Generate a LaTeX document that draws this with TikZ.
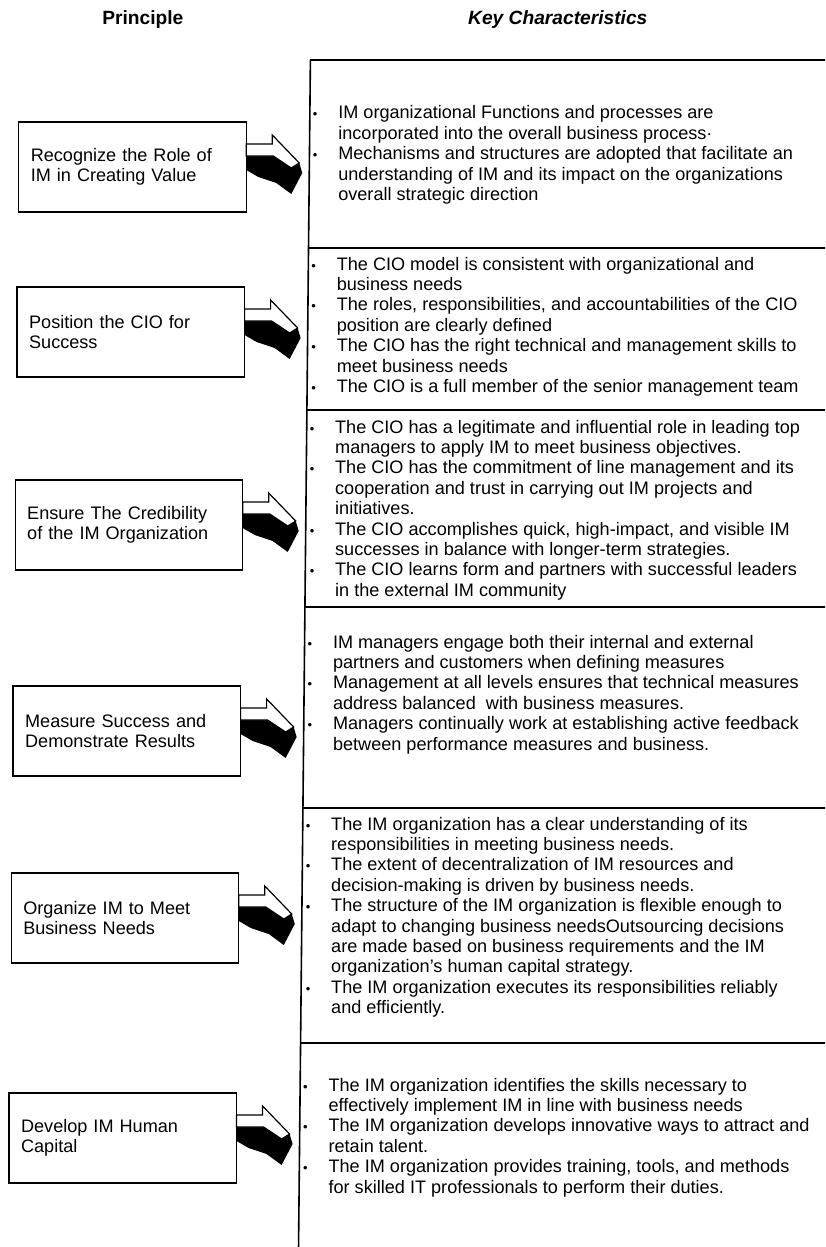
\documentclass[tikz,border=0pt]{standalone}
\usepackage{fontspec}
\setmainfont{Liberation Sans}
\usepackage{array}
% body text size and the small list bullet
\newcommand\bodyfont{\fontsize{9.05}{10.2}\selectfont}
\newcommand\blt{\makebox[14pt][l]{\hspace{1.3pt}{\fontsize{6.5}{6.5}\selectfont\symbol{"2022}}}}
\begin{document}
\begin{tikzpicture}[x=0.5pt,y=-0.5pt,
  every node/.style={inner sep=0pt,outer sep=0pt},
  headtxt/.style={font=\fontsize{9.6}{11}\selectfont\bfseries},
  pbox/.style={draw,line width=0.7pt,text width=101.75pt,inner xsep=6pt,
    minimum height=45pt,align=left,font=\bodyfont,anchor=north west},
  charlist/.style={anchor=base west,font=\bodyfont},
  tablerule/.style={line width=0.8pt},
  blockarrow/.pic={
    % dark side face of the bent arrow
    \fill[black] (0,-11) -- (27,-11) -- (45,1) -- (53,-4) -- (56,6)
      -- (45,27) -- (30,16) -- (12,10) -- (0,3) -- cycle;
    % white front face
    \filldraw[fill=white,draw=black,line width=0.6pt] (0,-23) -- (26,-23)
      -- (26,-32) -- (53,-4) -- (45,1) -- (27,-11) -- (0,-11) -- cycle;
  }
]
\fill[white] (0,0) rectangle (825,1247);
\useasboundingbox (0,0) rectangle (825,1247);
\clip (0,0) rectangle (825,1247);
\begin{scope}[xslant=0.01]

% column headings
\node[headtxt] (hprin) at (143,20) {Principle};
\node[headtxt,font=\fontsize{9.6}{11}\selectfont\bfseries\itshape] (hkey) at (558,20) {Key Characteristics};

% right-hand table frame
\coordinate (ctop) at (311,60);
\coordinate (cbot) at (311,1260);
\draw[tablerule] (ctop) -- (cbot);
\foreach \yy in {60,248,410,607,808,1043}
  \draw[tablerule] (311,\yy) -- (850,\yy);

% principle boxes
\node[pbox] (b1) at (20,122)  {Recognize the Role of\\IM in Creating Value};
\node[pbox] (b2) at (20,287)  {Position the CIO for\\Success};
\node[pbox] (b3) at (20,480)  {Ensure The Credibility\\of the IM Organization};
\node[pbox] (b4) at (20,686)  {Measure Success and\\Demonstrate Results};
\node[pbox] (b5) at (20,873)  {Organize IM to Meet\\Business Needs};
\node[pbox] (b6) at (20,1093) {Develop IM Human\\Capital};

% arrows from each principle to its characteristics
\foreach \b in {b1,b2,b3,b4,b5,b6}
  \pic at (\b.east) {blockarrow};

% key characteristics
\node[charlist] (k1) at (311.5,119) {\begin{tabular}[t]{@{}l@{}l@{}}
\blt & IM organizational Functions and processes are\\
 & incorporated into the overall business process·\\
\blt & Mechanisms and structures are adopted that facilitate an\\
 & understanding of IM and its impact on the organizations\\
 & overall strategic direction
\end{tabular}};

\node[charlist] (k2) at (311.5,270) {\begin{tabular}[t]{@{}l@{}l@{}}
\blt & The CIO model is consistent with organizational and\\
 & business needs\\
\blt & The roles, responsibilities, and accountabilities of the CIO\\
 & position are clearly defined\\
\blt & The CIO has the right technical and management skills to\\
 & meet business needs\\
\blt & The CIO is a full member of the senior management team
\end{tabular}};

\node[charlist] (k3) at (311.5,433) {\begin{tabular}[t]{@{}l@{}l@{}}
\blt & The CIO has a legitimate and influential role in leading top\\
 & managers to apply IM to meet business objectives.\\
\blt & The CIO has the commitment of line management and its\\
 & cooperation and trust in carrying out IM projects and\\
 & initiatives.\\
\blt & The CIO accomplishes quick, high-impact, and visible IM\\
 & successes in balance with longer-term strategies.\\
\blt & The CIO learns form and partners with successful leaders\\
 & in the external IM community
\end{tabular}};

\node[charlist] (k4) at (311.5,648) {\begin{tabular}[t]{@{}l@{}l@{}}
\blt & IM managers engage both their internal and external\\
 & partners and customers when defining measures\\
\blt & Management at all levels ensures that technical measures\\
 & address balanced\ \ with business measures.\\
\blt & Managers continually work at establishing active feedback\\
 & between performance measures and business.
\end{tabular}};

\node[charlist] (k5) at (311.5,830) {\begin{tabular}[t]{@{}l@{}l@{}}
\blt & The IM organization has a clear understanding of its\\
 & responsibilities in meeting business needs.\\
\blt & The extent of decentralization of IM resources and\\
 & decision-making is driven by business needs.\\
\blt & The structure of the IM organization is flexible enough to\\
 & adapt to changing business needsOutsourcing decisions\\
 & are made based on business requirements and the IM\\
 & organization's human capital strategy.\\
\blt & The IM organization executes its responsibilities reliably\\
 & and efficiently.
\end{tabular}};

\node[charlist] (k6) at (311.5,1091) {\begin{tabular}[t]{@{}l@{}l@{}}
\blt & The IM organization identifies the skills necessary to\\
 & effectively implement IM in line with business needs\\
\blt & The IM organization develops innovative ways to attract and\\
 & retain talent.\\
\blt & The IM organization provides training, tools, and methods\\
 & for skilled IT professionals to perform their duties.
\end{tabular}};

\end{scope}
\end{tikzpicture}
\end{document}
